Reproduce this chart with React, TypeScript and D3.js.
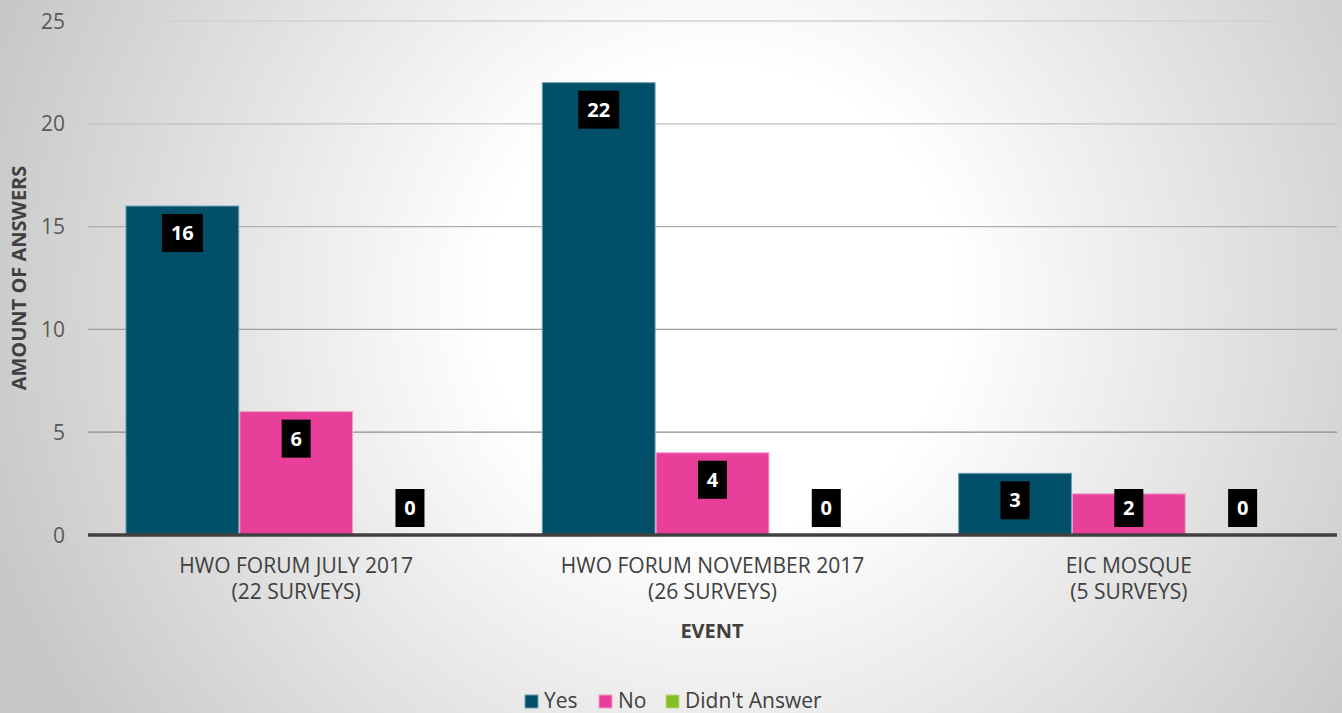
import React, { useEffect } from "react";
import * as d3 from "d3";

const events = ["HWO FORUM JULY 2017", "HWO FORUM NOVEMBER 2017", "EIC MOSQUE"];
const surveys = ["(22 SURVEYS)", "(26 SURVEYS)", "(5 SURVEYS)"];
const seriesNames = ["Yes", "No", "Didn't Answer"];
const yesValues = [16, 22, 3];
const noValues = [6, 4, 2];
const didntValues = [0, 0, 0];
const yTicks = [0, 5, 10, 15, 20, 25];

const colors = ["#024F6A", "#E8409A", "#86BC25"];
const strokes = ["#6C9DB2", "#F29CC8", "#B9DA7A"];

const W = 1342;
const H = 713;
const FONT = "'Open Sans', sans-serif";

const App = () => {
  useEffect(() => {
    document.body.style.margin = "0";
  }, []);

  const series = [yesValues, noValues, didntValues];

  const x0 = d3
    .scaleBand()
    .domain(events)
    .range([88, 1337])
    .paddingInner(0.18)
    .paddingOuter(0.09);

  const x1 = d3
    .scaleBand()
    .domain(seriesNames)
    .range([0, x0.bandwidth()]);

  const y = d3.scaleLinear().domain([0, 25]).range([535, 21]);

  const gridColor = d3
    .scaleLinear<string>()
    .domain([25, 5])
    .range(["#d2d2d2", "#8c8c8c"]);

  const legendX = [525, 599, 666];

  return (
    <svg width={W} height={H} style={{ display: "block" }}>
      <defs>
        <radialGradient
          id="bg"
          gradientUnits="userSpaceOnUse"
          cx={720}
          cy={300}
          r={780}
        >
          <stop offset="0" stopColor="#ffffff" />
          <stop offset="0.3" stopColor="#ffffff" />
          <stop offset="1" stopColor="#c6c6c6" />
        </radialGradient>
      </defs>
      <rect x={0} y={0} width={W} height={H} fill="url(#bg)" />

      {/* gridlines */}
      {yTicks
        .filter(t => t > 0)
        .map(t => (
          <line
            key={t}
            x1={88}
            x2={1337}
            y1={y(t)}
            y2={y(t)}
            stroke={gridColor(t)}
            strokeWidth={1.3}
          />
        ))}

      {/* y tick labels */}
      {yTicks.map(t => (
        <text
          key={t}
          x={65}
          y={y(t) + 7.5}
          textAnchor="end"
          fontFamily={FONT}
          fontSize={21}
          fill="#595959"
        >
          {t}
        </text>
      ))}

      {/* bars */}
      {events.map((ev, i) => (
        <g key={ev} transform={`translate(${x0(ev)},0)`}>
          {seriesNames.map((s, j) => {
            const v = series[j][i];
            if (v <= 0) return null;
            return (
              <rect
                key={s}
                x={x1(s)! + 0.5}
                y={y(v)}
                width={x1.bandwidth() - 1}
                height={y(0) - y(v)}
                fill={colors[j]}
                stroke={strokes[j]}
                strokeWidth={1}
              />
            );
          })}
        </g>
      ))}

      {/* zero axis */}
      <line x1={88} x2={1337} y1={y(0)} y2={y(0)} stroke="#404040" strokeWidth={3.5} />

      {/* data labels */}
      {events.map((ev, i) =>
        seriesNames.map((s, j) => {
          const v = series[j][i];
          const cx = x0(ev)! + x1(s)! + x1.bandwidth() / 2;
          const bw = 17 + 12 * String(v).length;
          const bh = 38;
          const top = Math.min(y(v) + 8, y(0) - 8 - bh);
          return (
            <g key={ev + s}>
              <rect x={cx - bw / 2} y={top} width={bw} height={bh} fill="#000" />
              <text
                x={cx}
                y={top + bh / 2 + 7}
                textAnchor="middle"
                fontFamily={FONT}
                fontWeight="bold"
                fontSize={20}
                fill="#fff"
              >
                {v}
              </text>
            </g>
          );
        })
      )}

      {/* category labels */}
      {events.map((ev, i) => {
        const cx = x0(ev)! + x0.bandwidth() / 2;
        return (
          <text
            key={ev}
            x={cx}
            textAnchor="middle"
            fontFamily={FONT}
            fontSize={21}
            fill="#404040"
          >
            <tspan x={cx} y={573}>
              {ev}
            </tspan>
            <tspan x={cx} y={599}>
              {surveys[i]}
            </tspan>
          </text>
        );
      })}

      {/* axis titles */}
      <text
        x={712}
        y={638}
        textAnchor="middle"
        fontFamily={FONT}
        fontWeight="bold"
        fontSize={20}
        fill="#404040"
      >
        EVENT
      </text>
      <text
        transform={`translate(26,${(y(0) + y(25)) / 2}) rotate(-90)`}
        textAnchor="middle"
        fontFamily={FONT}
        fontWeight="bold"
        fontSize={20}
        fill="#404040"
      >
        AMOUNT OF ANSWERS
      </text>

      {/* legend */}
      {seriesNames.map((s, j) => (
        <g key={s}>
          <rect
            x={legendX[j]}
            y={695}
            width={13}
            height={13}
            fill={colors[j]}
            stroke={strokes[j]}
            strokeWidth={1}
          />
          <text
            x={legendX[j] + 19}
            y={708}
            fontFamily={FONT}
            fontSize={21}
            fill="#404040"
          >
            {s}
          </text>
        </g>
      ))}
    </svg>
  );
};

export default App;
